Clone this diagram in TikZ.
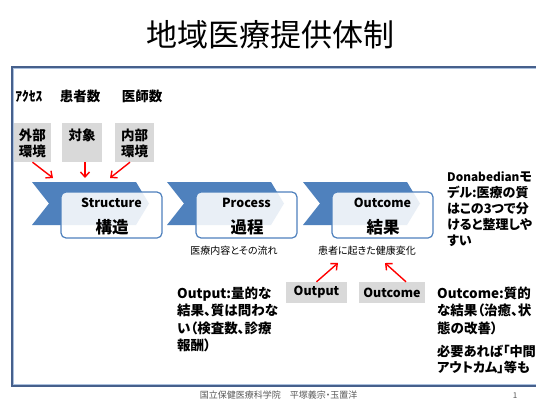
\documentclass[tikz,border=0pt]{standalone}
\usepackage{fontspec}
\setmainfont[RawFeature=+palt]{Noto Sans CJK JP}
\usetikzlibrary{arrows.meta}
\definecolor{chev}{RGB}{79,129,189}
\definecolor{frameblue}{RGB}{70,96,140}
\definecolor{framelight}{RGB}{170,192,222}
\definecolor{gboxc}{RGB}{217,217,217}
\definecolor{footc}{RGB}{89,89,89}
\begin{document}
\begin{tikzpicture}[x=1pt,y=-1pt,
  lab/.style={inner sep=0pt, font=\bfseries\fontsize{13.5}{17.5}\selectfont, align=left, anchor=west},
  toplab/.style={inner sep=0pt, font=\bfseries\fontsize{13.5}{16}\selectfont, anchor=center},
  gbox/.style={fill=gboxc, draw=none, inner sep=0pt},
  gtext/.style={inner sep=0pt, font=\bfseries\fontsize{13.5}{16}\selectfont, align=center, anchor=center},
  stagebox/.style={draw=chev, line width=1.2pt, fill=white, fill opacity=0.88, rounded corners=5pt, minimum width=101pt, minimum height=46pt, inner sep=0pt},
  enlab/.style={inner sep=0pt, font=\bfseries\fontsize{12.5}{12.5}\selectfont, anchor=center},
  jalab/.style={inner sep=0pt, font=\bfseries\fontsize{16.5}{16.5}\selectfont, anchor=center},
  small/.style={inner sep=0pt, font=\fontsize{10}{10}\selectfont, anchor=center},
  redarr/.style={draw=red, line width=1.4pt, -{Straight Barb[length=5pt,width=9pt]}},
  chevron/.style={fill=chev, draw=none}
]
\clip (0,0) rectangle (536,399);
\fill[white] (0,0) rectangle (536,399);

% title
\node[inner sep=0pt, font=\fontsize{31}{31}\selectfont] (title) at (270.5,35) {地域医療提供体制};

% frame
\draw[framelight, line width=1pt] (13.8,68.8) rectangle (560,384.2);
\draw[frameblue, line width=1.4pt] (12,67) rectangle (562,386);

% top labels
\node[toplab] (acc) at (29,96) {ｱｸｾｽ};
\node[toplab] (pat) at (80,96) {患者数};
\node[toplab] (doc) at (142,96) {医師数};

% gray boxes
\node[gbox, minimum width=37pt, minimum height=39pt] (ext) at (32.5,142.5) {};
\node[gbox, minimum width=40pt, minimum height=39pt] (obj) at (82,142.5) {};
\node[gbox, minimum width=39pt, minimum height=39pt] (inn) at (134.5,142.5) {};
\node[gtext] (extt) at (32.5,143) {外部\\環境};
\node[gtext] (objt) at (82,135) {対象};
\node[gtext] (innt) at (134.5,143) {内部\\環境};

% chevrons
\foreach \x in {32,167,303}{
  \fill[chevron] (\x,182) -- (\x+104,182) -- (\x+117,203.5) -- (\x+104,225) -- (\x,225) -- (\x+17,203.5) -- cycle;
}
\coordinate (a1) at (53,178);
\coordinate (a2) at (85,178);
\coordinate (a3) at (110,178);

% stage boxes
\node[stagebox] (sbox) at (111.5,215) {};
\node[stagebox] (pbox) at (246.5,215) {};
\node[stagebox] (obox) at (382.5,215) {};
\node[enlab] (sen) at (111.5,203) {Structure};
\node[jalab] (sja) at (112,227) {構造};
\node[enlab] (pen) at (246.5,203) {Process};
\node[jalab] (pja) at (247,227) {過程};
\node[enlab] (oen) at (382.5,203) {Outcome};
\node[jalab] (oja) at (383,227) {結果};

% arrows to structure
\draw[redarr] (ext.south) -- (a1);
\draw[redarr] ([xshift=3pt]obj.south) -- (a2);
\draw[redarr] ([xshift=-4.5pt]inn.south) -- (a3);

% small captions
\node[small] (pcap) at (234,251) {医療内容とその流れ};
\node[small] (ocap) at (367,251) {患者に起きた健康変化};

% output / outcome boxes
\node[gbox, minimum width=61pt, minimum height=21pt, font=\bfseries\fontsize{12.5}{12.5}\selectfont] (outb) at (316.5,292.5) {Output};
\node[gbox, minimum width=66pt, minimum height=21pt, font=\bfseries\fontsize{12.5}{12.5}\selectfont] (ocb) at (392,292.5) {Outcome};
\coordinate (h1) at (338,263);
\coordinate (h2) at (385,263);
\draw[redarr] (outb.north) -- (h1);
\draw[redarr] ([xshift=14pt]ocb.north) -- (h2);

% explanatory texts
\node[lab] (outtxt) at (177,319.25) {Output:量的な\\結果、質は問わな\\い（検査数、診療\\報酬）};
\node[lab] (octxt) at (437,310.5) {Outcome:質的\\な結果（治癒、状\\態の改善）};
\node[lab, font=\bfseries\fontsize{13.2}{16}\selectfont] (midtxt) at (437,359) {必要あれば「中間\\アウトカム」等も};
\node[lab, font=\bfseries\fontsize{13}{16}\selectfont] (dona) at (447,209) {{\fontsize{11.8}{16}\selectfont Donabedian}モ\\デル:医療の質\\はこの3つで分\\けると整理しや\\すい};

% footer
\node[inner sep=0pt, font=\fontsize{9}{9}\selectfont, text=footc] (foot) at (278.5,395.5) {国立保健医療科学院　平塚義宗・玉置洋};
\node[inner sep=0pt, font=\fontsize{8}{8}\selectfont, text=footc] (pg) at (515,395.5) {1};
\end{tikzpicture}
\end{document}
